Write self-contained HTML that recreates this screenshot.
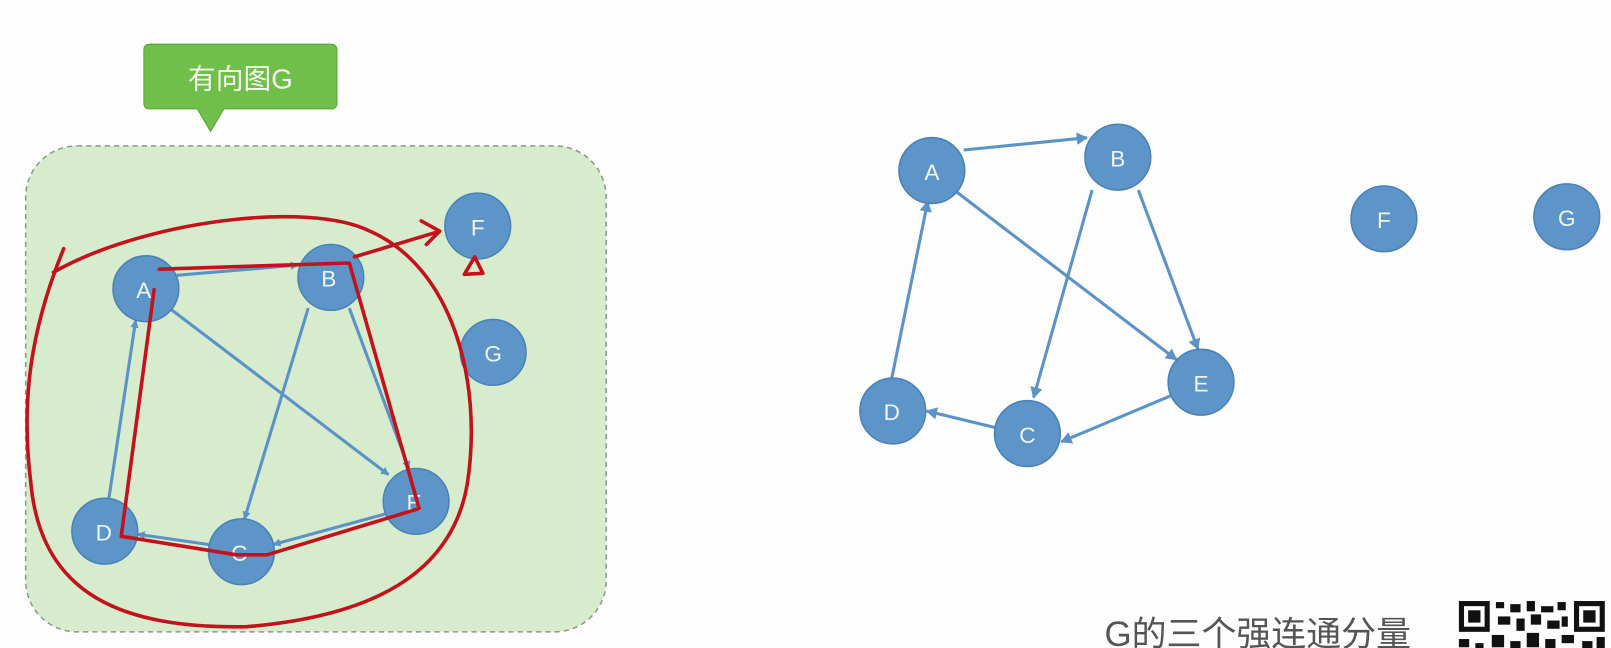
<!DOCTYPE html>
<html><head><meta charset="utf-8"><style>
html,body{margin:0;padding:0;background:#fdfdfe;}
svg{display:block}
</style></head><body>
<svg width="1611" height="648" viewBox="0 0 1611 648" xmlns="http://www.w3.org/2000/svg">
<defs>
<marker id="ar" markerWidth="8" markerHeight="8" refX="7" refY="4" orient="auto" markerUnits="userSpaceOnUse"><path d="M0,0 L8,4 L0,8 z" fill="#5b93c7"/></marker>
<marker id="ar2" markerWidth="12" markerHeight="12" refX="10" refY="6" orient="auto" markerUnits="userSpaceOnUse"><path d="M0,0 L11,6 L0,12 z" fill="#5b93c7"/></marker>
</defs>
<rect width="1611" height="648" fill="#fdfdfe"/>
<g transform="scale(1.0274)">
<rect x="25" y="142" width="565" height="473" rx="50" fill="#d7ebcd" stroke="#8a9a8a" stroke-width="1.5" stroke-dasharray="5,4"/>
<path d="M146,43 H322 Q328,43 328,49 V100 Q328,106 322,106 H218 L205,128 L192,106 H146 Q140,106 140,100 V49 Q140,43 146,43 Z" fill="#6fbf4a" stroke="#5aa23a"/>
<text x="234" y="86" font-family="Liberation Sans, Noto Sans CJK SC, sans-serif" font-size="27" fill="#f4fbef" text-anchor="middle">有向图G</text>

<g stroke="#5b93c7" stroke-width="3" fill="none" marker-end="url(#ar)">
<line x1="172" y1="268" x2="290" y2="258"/>
<line x1="165" y1="300" x2="378" y2="462"/>
<line x1="300" y1="300" x2="238" y2="505"/>
<line x1="340" y1="300" x2="398" y2="456"/>
<line x1="376" y1="500" x2="266" y2="530"/>
<line x1="203" y1="530" x2="134" y2="520"/>
<line x1="106" y1="485" x2="132" y2="312"/>
</g>
<g fill="#5d95c9" stroke="#4a82b6" stroke-width="1.5">
<circle cx="142" cy="281" r="32"/><circle cx="322" cy="270" r="32"/>
<circle cx="465" cy="220" r="32"/><circle cx="480" cy="343" r="32"/>
<circle cx="102" cy="517" r="32"/><circle cx="235" cy="537" r="32"/>
<circle cx="405" cy="488" r="32"/>
</g>
<g font-family="Liberation Sans, sans-serif" font-size="22" fill="#eef5fb" text-anchor="middle">
<text x="140" y="290">A</text><text x="320" y="279">B</text><text x="465" y="229">F</text>
<text x="480" y="352">G</text><text x="101" y="526">D</text><text x="233" y="546">C</text><text x="403" y="497">E</text>
</g>
<g stroke="#c4121c" stroke-width="3.5" fill="none" stroke-linecap="round" stroke-linejoin="round">
<path d="M52,265 C140,215 300,195 360,225 C440,260 470,370 455,470 C440,560 360,600 240,610 C120,612 40,580 30,470 C20,390 30,320 62,242"/>
<path d="M155,262 L340,256 L408,495 L260,540 L230,540 L118,522 L150,282"/>
<path d="M345,250 L425,226"/>
<path d="M410,215 L428,225 L415,238"/>
<path d="M452,267 L462,250 L470,266 Z"/>
</g>

<g stroke="#5b93c7" stroke-width="3" fill="none" marker-end="url(#ar2)">
<line x1="938" y1="146" x2="1058" y2="134"/>
<line x1="930" y1="186" x2="1145" y2="350"/>
<line x1="1063" y1="185" x2="1006" y2="387"/>
<line x1="1108" y1="185" x2="1166" y2="340"/>
<line x1="1140" y1="385" x2="1033" y2="430"/>
<line x1="968" y1="416" x2="902" y2="400"/>
<line x1="868" y1="368" x2="903" y2="196"/>
</g>
<g fill="#5d95c9" stroke="#4a82b6" stroke-width="1.5">
<circle cx="907" cy="166" r="32"/><circle cx="1088" cy="153" r="32"/>
<circle cx="1347" cy="213" r="32"/><circle cx="1525" cy="211" r="32"/>
<circle cx="1169" cy="372" r="32"/><circle cx="1000" cy="422" r="32"/>
<circle cx="869" cy="400" r="32"/>
</g>
<g font-family="Liberation Sans, sans-serif" font-size="22" fill="#eef5fb" text-anchor="middle">
<text x="907" y="175">A</text><text x="1088" y="162">B</text><text x="1347" y="222">F</text>
<text x="1525" y="220">G</text><text x="1169" y="381">E</text><text x="1000" y="431">C</text><text x="868" y="409">D</text>
</g>
<text x="1075" y="629" font-family="Liberation Sans, Noto Sans CJK SC, sans-serif" font-size="34" fill="#555">G的三个强连通分量</text>
<g fill="#111">
<rect x="1420" y="585" width="30" height="30"/><rect x="1425" y="590" width="20" height="20" fill="#fff"/><rect x="1429" y="594" width="12" height="12"/>
<rect x="1532" y="585" width="30" height="30"/><rect x="1537" y="590" width="20" height="20" fill="#fff"/><rect x="1541" y="594" width="12" height="12"/>
<rect x="1456" y="586" width="8" height="6"/><rect x="1470" y="588" width="10" height="8"/><rect x="1486" y="585" width="8" height="10"/><rect x="1500" y="590" width="12" height="6"/><rect x="1516" y="586" width="8" height="8"/>
<rect x="1458" y="600" width="12" height="8"/><rect x="1476" y="602" width="8" height="12"/><rect x="1490" y="598" width="10" height="10"/><rect x="1506" y="604" width="12" height="8"/><rect x="1520" y="600" width="6" height="10"/>
<rect x="1420" y="622" width="10" height="8"/><rect x="1436" y="626" width="8" height="10"/><rect x="1452" y="618" width="12" height="12"/><rect x="1470" y="624" width="10" height="10"/><rect x="1486" y="616" width="12" height="14"/><rect x="1504" y="622" width="10" height="10"/><rect x="1520" y="618" width="12" height="8"/><rect x="1540" y="624" width="10" height="10"/><rect x="1554" y="620" width="8" height="12"/>
</g>
</g>
</svg>
</body></html>
